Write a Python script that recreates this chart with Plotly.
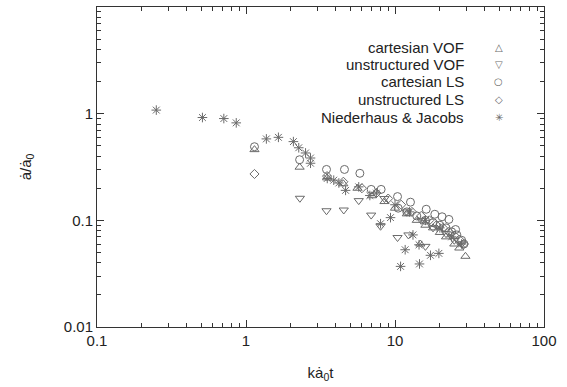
import plotly.graph_objects as go

# ---- data ----
cart_vof_x = [1.14, 2.29, 3.5, 4.5, 5.6, 7.0, 8.5, 10.0, 12.0, 14.0, 14.8, 16.0, 18.0, 20.0, 22.0, 25.0, 27.0, 29.7]
cart_vof_y = [0.46, 0.315, 0.25, 0.22, 0.20, 0.17, 0.15, 0.13, 0.115, 0.10, 0.06, 0.09, 0.085, 0.077, 0.07, 0.06, 0.055, 0.046]

unst_vof_x = [2.30, 3.47, 4.53, 5.71, 6.92, 8.0, 8.5, 10.4, 12.3, 12.0, 15.0, 16.0, 18.0, 22.0, 25.0, 28.0]
unst_vof_y = [0.161, 0.123, 0.125, 0.153, 0.112, 0.088, 0.16, 0.069, 0.073, 0.12, 0.10, 0.057, 0.085, 0.075, 0.065, 0.06]

cart_ls_x = [1.14, 2.29, 3.47, 4.58, 5.81, 6.92, 8.07, 10.4, 10.5, 12.7, 12.0, 14.0, 16.2, 16.0, 18.5, 18.0, 20.7, 20.0, 23.0, 22.0, 25.5, 24.0, 26.0, 28.0, 29.0]
cart_ls_y = [0.49, 0.37, 0.30, 0.30, 0.276, 0.195, 0.195, 0.167, 0.13, 0.148, 0.12, 0.11, 0.127, 0.10, 0.114, 0.095, 0.108, 0.09, 0.102, 0.085, 0.082, 0.078, 0.073, 0.065, 0.06]

unst_ls_x = [1.14, 3.5, 4.5, 6.0, 7.5, 9.0, 11.0, 13.0, 15.0, 17.0, 19.0, 21.0, 23.0, 25.0, 27.0, 29.0]
unst_ls_y = [0.272, 0.26, 0.23, 0.20, 0.18, 0.16, 0.14, 0.12, 0.11, 0.10, 0.09, 0.085, 0.078, 0.072, 0.066, 0.06]

nj_x = [0.25, 0.51, 0.71, 0.86, 1.37, 1.65, 2.08, 2.26, 2.51, 2.71, 2.71, 3.51, 3.88, 4.20, 4.66, 5.71, 6.78, 7.5,
        8.0, 9.33, 10.0, 10.9, 11.7, 12.5, 13.2, 14.5, 14.6, 16.0, 17.3, 19.7, 20.0, 24.0, 28.0]
nj_y = [1.08, 0.92, 0.90, 0.82, 0.58, 0.60, 0.547, 0.479, 0.428, 0.384, 0.343, 0.247, 0.238, 0.224, 0.191, 0.206, 0.171, 0.18,
        0.093, 0.106, 0.14, 0.037, 0.053, 0.12, 0.073, 0.059, 0.039, 0.10, 0.047, 0.049, 0.085, 0.07, 0.06]

series = [
    ("cartesian VOF", cart_vof_x, cart_vof_y, "triangle-up-open", 8, "△"),
    ("unstructured VOF", unst_vof_x, unst_vof_y, "triangle-down-open", 8, "▽"),
    ("cartesian LS", cart_ls_x, cart_ls_y, "circle-open", 8, "○"),
    ("unstructured LS", unst_ls_x, unst_ls_y, "diamond-open", 7, "◇"),
    ("Niederhaus & Jacobs", nj_x, nj_y, "asterisk-open", 8, "✳"),
]

x_ticks = [0.1, 1, 10, 100]
x_tick_text = ["0.1", "1", "10", "100"]
y_ticks = [0.01, 0.1, 1, 10]
y_tick_text = ["0.01", "0.1", "1", "10"]

GRAY = "#6a6a6a"
FONT = "Liberation Sans, Arial, sans-serif"
FS = 15

fig = go.Figure()
for name, xs, ys, sym, size, _ in series:
    fig.add_trace(go.Scatter(
        x=xs, y=ys, mode="markers", name=name, showlegend=False,
        marker=dict(symbol=sym, size=size, color=GRAY, line=dict(color=GRAY, width=1)),
    ))

minor_x = [m * 10 ** e for e in (-1, 0, 1) for m in range(2, 10)]
minor_y = [m * 10 ** e for e in (-2, -1, 0) for m in range(2, 10)]

axis_common = dict(
    type="log", showgrid=False, zeroline=False,
    showline=True, linecolor="#333", linewidth=1, mirror="allticks",
    ticks="inside", ticklen=7, tickcolor="#333", tickwidth=1,
    tickfont=dict(family=FONT, size=FS, color="#222"),
)

fig.update_xaxes(**axis_common, range=[-1, 2], tickvals=x_ticks, ticktext=x_tick_text,
                 minor=dict(ticks="inside", ticklen=4, tickcolor="#333", tickvals=minor_x),
                 title=dict(text="kȧ<sub>0</sub>t", font=dict(family=FONT, size=FS, color="#222"), standoff=19))
fig.update_yaxes(**axis_common, range=[-2, 1], tickvals=y_ticks, ticktext=y_tick_text,
                 minor=dict(ticks="inside", ticklen=4, tickcolor="#333", tickvals=minor_y),
                 title=dict(text="ȧ/ȧ<sub>0</sub>", font=dict(family=FONT, size=FS, color="#222"), standoff=28))

# legend drawn gnuplot-style: right-aligned text, key symbol on the right
leg_rows = [0.875, 0.820, 0.766, 0.711, 0.656]
for (name, _, _, _, _, glyph), yy in zip(series, leg_rows):
    fig.add_annotation(x=0.826, y=yy, xref="paper", yref="paper", text=name, showarrow=False,
                       xanchor="right", yanchor="middle", font=dict(family=FONT, size=FS, color="#222"))
    fig.add_annotation(x=0.899, y=yy, xref="paper", yref="paper", text=glyph, showarrow=False,
                       xanchor="center", yanchor="middle", font=dict(family="DejaVu Sans", size=10, color=GRAY))

fig.update_layout(
    width=567, height=387,
    margin=dict(l=97, r=23, t=7, b=60),
    paper_bgcolor="white", plot_bgcolor="white",
    showlegend=False,
)

fig.write_html("out.html")
